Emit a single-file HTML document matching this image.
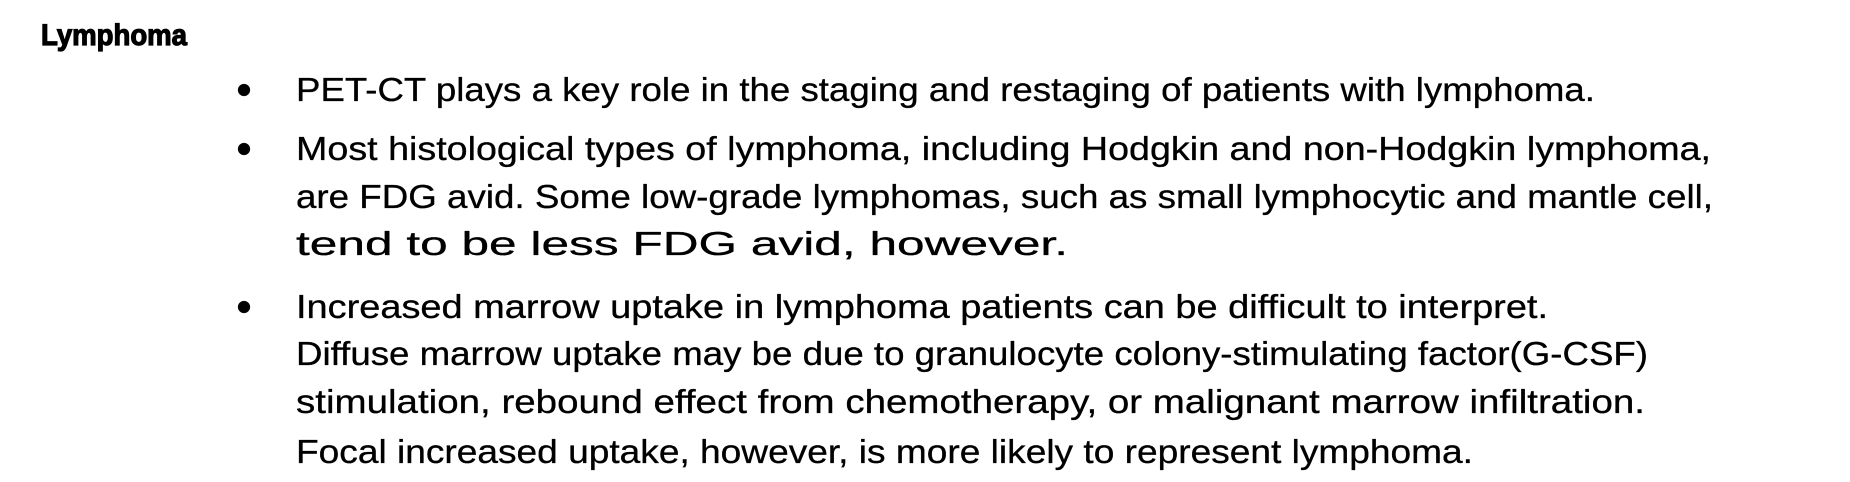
<!DOCTYPE html>
<html><head><meta charset="utf-8"><style>
html,body{margin:0;padding:0;background:#fff;}
svg{display:block;}
text{font-family:"Liberation Sans",sans-serif;fill:#000;}
</style></head><body>
<svg width="1850" height="482" viewBox="0 0 1850 482">
<text x="41" y="45" font-size="30" font-weight="bold" stroke="#000" stroke-width="1.2" textLength="146" lengthAdjust="spacingAndGlyphs" style="font-family:'Liberation Sans Narrow','Liberation Sans',sans-serif">Lymphoma</text>
<g font-size="33" stroke="#000" stroke-width="0.3">
<circle cx="244" cy="90" r="6"/>
<text x="296" y="101" textLength="1299" lengthAdjust="spacingAndGlyphs">PET-CT plays a key role in the staging and restaging of patients with lymphoma.</text>
<circle cx="244" cy="149" r="6"/>
<text x="296" y="160" textLength="1415" lengthAdjust="spacingAndGlyphs">Most histological types of lymphoma, including Hodgkin and non-Hodgkin lymphoma,</text>
<text x="296" y="208" textLength="1417" lengthAdjust="spacingAndGlyphs">are FDG avid. Some low-grade lymphomas, such as small lymphocytic and mantle cell,</text>
<text x="296" y="255" textLength="772" lengthAdjust="spacingAndGlyphs">tend to be less FDG avid, however.</text>
<circle cx="244" cy="307" r="6"/>
<text x="296" y="318" textLength="1252" lengthAdjust="spacingAndGlyphs">Increased marrow uptake in lymphoma patients can be difficult to interpret.</text>
<text x="296" y="365" textLength="1352" lengthAdjust="spacingAndGlyphs">Diffuse marrow uptake may be due to granulocyte colony-stimulating factor(G-CSF)</text>
<text x="296" y="413" textLength="1349" lengthAdjust="spacingAndGlyphs">stimulation, rebound effect from chemotherapy, or malignant marrow infiltration.</text>
<text x="296" y="463" textLength="1177" lengthAdjust="spacingAndGlyphs">Focal increased uptake, however, is more likely to represent lymphoma.</text>
</g>
</svg>
</body></html>
